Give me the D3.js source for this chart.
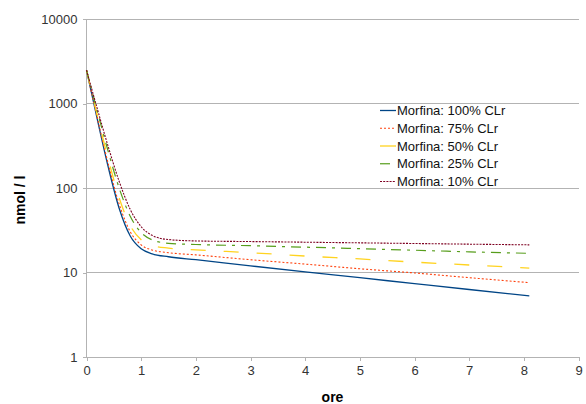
<!DOCTYPE html>
<html>
<head>
<meta charset="utf-8">
<script src="https://cdn.jsdelivr.net/npm/d3@7/dist/d3.min.js"></script>
<style>
  html, body { margin: 0; padding: 0; background: #fff; }
  svg { display: block; font-family: "Liberation Sans", Arial, sans-serif; }
</style>
</head>
<body>
<svg id="chart" width="586" height="404"></svg>
<script>
// Sampling times (hours)
const hours = [0, 0.2, 0.4, 0.6, 0.8, 1.0, 1.2, 1.5, 2, 3, 4, 5, 6, 7, 8.1];

// Morphine concentration (nmol / l) by residual renal clearance
const clr100 = [2500, 642, 175, 57, 27.1, 19.1, 16.7, 15.4, 14.2, 12.0, 10.2, 8.7, 7.4, 6.3, 5.3];
const clr75  = [2500, 672, 191, 64, 30.5, 21.3, 18.5, 17.2, 16.2, 14.2, 12.6, 11.1, 9.9, 8.7, 7.6];
const clr50  = [2500, 720, 218, 76, 36, 24.5, 21.0, 19.5, 18.6, 17.2, 15.7, 14.5, 13.3, 12.3, 11.3];
const clr25  = [2500, 802, 268, 99, 46.5, 29.8, 24.4, 22.2, 21.5, 20.8, 20.0, 19.2, 18.4, 17.6, 16.9];
const clr10  = [2500, 860, 306, 119, 56, 34.9, 27.6, 24.6, 23.7, 23.3, 22.9, 22.5, 22.1, 21.7, 21.3];

const seriesNames = ["Morfina: 100% CLr", "Morfina: 75% CLr", "Morfina: 50% CLr", "Morfina: 25% CLr", "Morfina: 10% CLr"];
const seriesValues = [clr100, clr75, clr50, clr25, clr10];

const xTicks = [0, 1, 2, 3, 4, 5, 6, 7, 8, 9];
const yTicks = [1, 10, 100, 1000, 10000];

// Line styles per series
const colors = ["#004586", "#ff420e", "#ffd320", "#579d1c", "#7e0021"];
const dashes = [null, "2,2", "15,18", "10,6,3,6", "2,1.2"];
const widths = [1.3, 1.1, 1.3, 1.2, 1.1];

const svg = d3.select("#chart");

const x = d3.scaleLinear().domain([0, 9]).range([86.5, 578.5]);
const y = d3.scaleLog().domain([1, 10000]).range([357, 19.3]);

const grid = "#b3b3b3";

// Horizontal gridlines at each decade
svg.append("g")
  .selectAll("line")
  .data(yTicks)
  .join("line")
  .attr("x1", x(0)).attr("x2", x(9))
  .attr("y1", d => y(d)).attr("y2", d => y(d))
  .attr("stroke", grid).attr("stroke-width", 1)
  .attr("shape-rendering", "crispEdges");

// Axes
const xAxis = d3.axisBottom(x).tickValues(xTicks).tickFormat(d3.format("d")).tickSize(4).tickPadding(5);
const yAxis = d3.axisLeft(y).tickValues(yTicks).tickFormat(d3.format("d")).tickSize(4).tickPadding(5);

const gx = svg.append("g").attr("transform", `translate(0,${y(1)})`).call(xAxis);
const gy = svg.append("g").attr("transform", `translate(${x(0)},0)`).call(yAxis);

[gx, gy].forEach(g => {
  g.select(".domain").attr("stroke", grid).attr("shape-rendering", "crispEdges");
  g.selectAll(".tick line").attr("stroke", grid).attr("shape-rendering", "crispEdges");
  g.selectAll(".tick text").attr("fill", "#333").attr("font-size", 13)
    .attr("font-family", "'Liberation Sans', Arial, sans-serif");
});
gy.select(".domain").attr("d", `M0,${y(10000)}V${y(1)}`);

// Series lines
const line = d3.line()
  .x((d, i) => x(hours[i]))
  .y(d => y(d))
  .curve(d3.curveMonotoneX);

seriesValues.forEach((vals, k) => {
  svg.append("path")
    .datum(vals)
    .attr("d", line)
    .attr("fill", "none")
    .attr("stroke", colors[k])
    .attr("stroke-width", widths[k])
    .attr("stroke-dasharray", dashes[k]);
});

// Axis titles
svg.append("text")
  .attr("x", (x(0) + x(9)) / 2).attr("y", 402)
  .attr("text-anchor", "middle")
  .attr("font-size", 14).attr("font-weight", "bold").attr("fill", "#000")
  .text("ore");

svg.append("text")
  .attr("transform", `translate(25,${200}) rotate(-90)`)
  .attr("text-anchor", "middle")
  .attr("font-size", 14).attr("font-weight", "bold").attr("fill", "#000")
  .text("nmol / l");

// Legend
const legend = svg.append("g");
const legendY0 = 110.5, legendStep = 17.75;
seriesNames.forEach((name, k) => {
  const cy = legendY0 + k * legendStep;
  legend.append("line")
    .attr("x1", 380).attr("x2", 396)
    .attr("y1", cy).attr("y2", cy)
    .attr("stroke", colors[k])
    .attr("stroke-width", widths[k])
    .attr("stroke-dasharray", dashes[k] === "15,18" ? null : dashes[k]);
  legend.append("text")
    .attr("x", 397).attr("y", cy)
    .attr("dy", "0.35em")
    .attr("font-size", 13).attr("fill", "#111")
    .text(name);
});
</script>
</body>
</html>
